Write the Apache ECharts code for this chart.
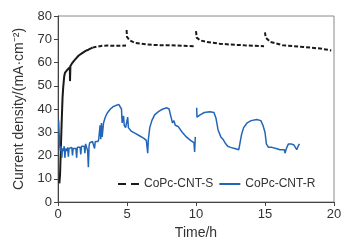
<!DOCTYPE html>
<html>
<head>
<meta charset="utf-8">
<script src="https://cdn.jsdelivr.net/npm/echarts@6/dist/echarts.min.js"></script>
<style>
  html, body { margin: 0; padding: 0; background: #fff; }
  #chart { width: 355px; height: 248px; }
</style>
</head>
<body>
<div id="chart"></div>
<script>
// CoPc-CNT-S, steep start (drawn solid)
const sStart = [
  [0.1, 8], [0.15, 12], [0.2, 22], [0.27, 35], [0.33, 45], [0.38, 49.5],
  [0.45, 54], [0.5, 55.5], [0.6, 56], [0.7, 57], [0.8, 57.5], [0.86, 58],
  [0.87, 52], [0.9, 58.5], [1.0, 59.5], [1.2, 61], [1.5, 63], [1.7, 63.8],
  [2.0, 65], [2.2, 65.5], [2.5, 66.4],
];
// CoPc-CNT-S, dashed rest (null = break before each jump)
const sRest = [
  [2.5, 66.4], [2.8, 66.8], [3.2, 67.2], [3.6, 67.3], [4.0, 67.2], [4.5, 67.2], [4.93, 67.3],
  null,
  [4.97, 74], [5.0, 71], [5.2, 69.5], [5.6, 68.4], [6.4, 67.8], [7.0, 67.5], [8.1, 67.4],
  [9.0, 67.2], [9.93, 67],
  null,
  [10.0, 73.5], [10.05, 70.7], [10.3, 69.5], [10.8, 68.8], [11.7, 68.1], [12.5, 67.7],
  [13.5, 67.4], [14.6, 67.1], [14.93, 67],
  null,
  [15.0, 73], [15.05, 70.7], [15.4, 68.8], [16.3, 67.4], [17.8, 66.7], [19.0, 66], [19.8, 65.2],
];
// CoPc-CNT-R
const rData = [
  [0.05, 35], [0.08, 30], [0.12, 24], [0.18, 22], [0.22, 24], [0.28, 19], [0.32, 23],
  [0.4, 22], [0.45, 24], [0.5, 19], [0.55, 23], [0.62, 22], [0.7, 23.5], [0.75, 19.5],
  [0.8, 23], [0.9, 22.5], [1.0, 23.5], [1.05, 20], [1.1, 23], [1.2, 23.5], [1.3, 23],
  [1.35, 19], [1.4, 23.5], [1.5, 24], [1.6, 23.5], [1.65, 20.5], [1.7, 24], [1.8, 24.5],
  [1.9, 24], [1.95, 21], [2.0, 25], [2.1, 25.5], [2.15, 22], [2.2, 15], [2.25, 24],
  [2.3, 25.5], [2.4, 25], [2.5, 26], [2.6, 25.5], [2.65, 23], [2.7, 26], [2.8, 26.5],
  [2.9, 26], [2.95, 27], [3.0, 26.5], [3.05, 33], [3.1, 27], [3.15, 34], [3.2, 28],
  [3.3, 34], [3.4, 36], [3.5, 37.5], [3.6, 38.5], [3.8, 40], [4.0, 41], [4.2, 41.5],
  [4.4, 42], [4.5, 41.5], [4.6, 40], [4.65, 34], [4.75, 37], [4.8, 33], [4.9, 32],
  [5.0, 32], [5.05, 36.5], [5.1, 32], [5.3, 30.5], [5.6, 29.5], [5.9, 28.5], [6.2, 27.5],
  [6.4, 26.5], [6.5, 21], [6.55, 27], [6.65, 32], [6.8, 35], [7.0, 37.5], [7.3, 39],
  [7.6, 40], [7.9, 40.5], [8.05, 40], [8.15, 37.5], [8.3, 34], [8.4, 35], [8.5, 33],
  [8.7, 32.5], [9.0, 30], [9.3, 28], [9.6, 26.5], [9.85, 25.5], [9.9, 21.5], [9.95, 28],
  null,
  [10.05, 40.5], [10.07, 36.5], [10.3, 37.5], [10.6, 38.5], [11.0, 38.8], [11.3, 38.5],
  [11.45, 36], [11.6, 31], [11.8, 28], [11.95, 27], [12.1, 25.5], [12.3, 24], [12.5, 23.5],
  [12.8, 23], [13.1, 22.5], [13.2, 22.5], [13.3, 29], [13.45, 32], [13.7, 34], [14.0, 35],
  [14.4, 35.5], [14.7, 35], [14.85, 33], [15.0, 30], [15.1, 25], [15.25, 23.5], [15.5, 23.5],
  [15.8, 23], [16.1, 22.5], [16.4, 22.5], [16.45, 21], [16.55, 23], [16.7, 25], [16.9, 25],
  [17.1, 24.5], [17.2, 25], [17.3, 22.5], [17.4, 24], [17.5, 25],
];

const font = 'Liberation Sans, Arial, sans-serif';
const black = '#1a1a1a';
const blue = '#2266b8';

const chart = echarts.init(document.getElementById('chart'));
chart.setOption({
  animation: false,
  textStyle: { fontFamily: font },
  grid: {
    left: 58, right: 21, top: 16, bottom: 46,
    show: true, borderColor: '#888', borderWidth: 1,
  },
  legend: {
    data: [
      { name: 'CoPc-CNT-S', lineStyle: { type: [8, 5], width: 2, color: black } },
      { name: 'CoPc-CNT-R' },
    ],
    left: 112, top: 173,
    itemWidth: 21, itemHeight: 10, itemGap: 5,
    itemStyle: { opacity: 0 },
    textStyle: { fontSize: 12, color: '#333', fontFamily: font },
  },
  xAxis: {
    type: 'value', min: 0, max: 20, interval: 5,
    name: 'Time/h', nameLocation: 'middle', nameGap: 24,
    nameTextStyle: { fontSize: 14, color: '#333' },
    axisLine: { lineStyle: { color: '#444' } },
    axisTick: { show: true, length: 4, lineStyle: { color: '#444' } },
    axisLabel: { fontSize: 13, color: '#333', margin: 6 },
    splitLine: { show: false },
  },
  yAxis: {
    type: 'value', min: 0, max: 80, interval: 10,
    name: 'Current density/(mA·cm⁻²)', nameLocation: 'middle', nameGap: 27,
    nameTextStyle: { fontSize: 14, color: '#333' },
    axisLine: { show: true, lineStyle: { color: '#444' } },
    axisTick: { show: true, length: 4, lineStyle: { color: '#444' } },
    axisLabel: { fontSize: 13, color: '#333', margin: 6 },
    splitLine: { show: false },
  },
  series: [
    // legend entry only: carries the long-dash icon
    {
      name: 'CoPc-CNT-S', type: 'line', data: [], symbol: 'none',
      lineStyle: { color: black, width: 2, type: [8, 5] }, itemStyle: { color: black },
    },
    {
      name: 'S-rest', type: 'line', data: sRest, showSymbol: false, symbol: 'none',
      lineStyle: { color: black, width: 2, type: [4, 2] },
    },
    {
      name: 'S-start', type: 'line', data: sStart, showSymbol: false, symbol: 'none',
      lineStyle: { color: black, width: 2 },
    },
    {
      name: 'CoPc-CNT-R', type: 'line', data: rData, showSymbol: false, symbol: 'none',
      lineStyle: { color: blue, width: 1.5 }, itemStyle: { color: blue },
    },
  ],
});
</script>
</body>
</html>
